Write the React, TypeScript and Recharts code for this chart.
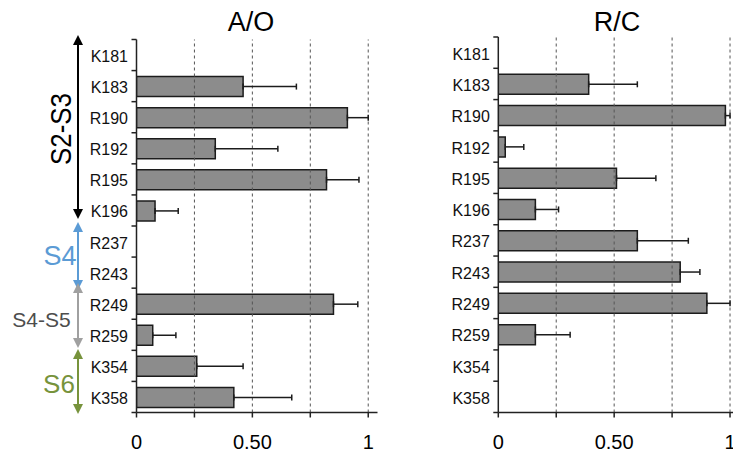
import React from 'react';
import { BarChart, Bar, XAxis, YAxis, ReferenceLine, ErrorBar } from 'recharts';

// residues shown on the y axis, top to bottom
const residues = ['K181', 'K183', 'R190', 'R192', 'R195', 'K196', 'R237', 'R243', 'R249', 'R259', 'K354', 'K358'];

// A/O panel
const aoValues = [0, 0.46, 0.91, 0.34, 0.82, 0.08, 0, 0, 0.85, 0.07, 0.26, 0.42];
const aoErrors = [0, 0.23, 0.09, 0.27, 0.14, 0.1, 0, 0, 0.105, 0.1, 0.2, 0.25];

// R/C panel
const rcValues = [0, 0.39, 0.98, 0.03, 0.51, 0.16, 0.6, 0.785, 0.9, 0.16, 0, 0];
const rcErrors = [0, 0.21, 0.02, 0.08, 0.17, 0.1, 0.22, 0.085, 0.1, 0.15, 0, 0];

const xTicks = [0, 0.25, 0.5, 0.75, 1];
const gridLines = [0.25, 0.5, 0.75, 1];
const xTickLabels: Record<number, string> = { 0: '0', 0.5: '0.50', 1: '1' };

const FONT = '"Liberation Sans", Arial, Helvetica, sans-serif';
const AXIS = '#222';

const buildRows = (values: number[], errors: number[]) =>
  residues.map((residue, i) => ({ residue, value: values[i], err: [0, errors[i]] }));

interface PanelProps {
  rows: any[];
  left: number;
  top: number;
  axisX: number; // y axis position inside the panel
}

const Panel = ({ rows, left, top, axisX }: PanelProps) => {
  const plotBottom = 412.5;
  const band = (plotBottom - top) / residues.length;

  // label at band centre, small tick at the band boundary
  const ResidueTick = (props: any) => {
    const { x, y, payload, index } = props;
    return (
      <g>
        <text x={x - 8.5} y={y} dy={7} textAnchor="end" fontSize={16} fill="#111">
          {payload.value}
        </text>
        <line x1={x - 5} x2={x} y1={y - band / 2} y2={y - band / 2} stroke={AXIS} strokeWidth={1.5} />
        {index === residues.length - 1 && (
          <line x1={x - 5} x2={x} y1={y + band / 2} y2={y + band / 2} stroke={AXIS} strokeWidth={1.5} />
        )}
      </g>
    );
  };

  return (
    <div style={{ position: 'absolute', left, top: 0 }}>
      <BarChart
        width={400}
        height={459}
        data={rows}
        layout="vertical"
        margin={{ top, right: 400 - axisX - 241, left: 0, bottom: 459 - plotBottom - 40 }}
      >
        {gridLines.map((v) => (
          <ReferenceLine key={v} x={v} stroke="#555" strokeDasharray="3 3" />
        ))}
        <XAxis
          type="number"
          domain={[0, 1.04]}
          ticks={xTicks}
          allowDataOverflow
          tickFormatter={(v: number) => xTickLabels[v] ?? ''}
          height={40}
          tickSize={5}
          tickMargin={17}
          axisLine={{ stroke: AXIS, strokeWidth: 1.5 }}
          tickLine={{ stroke: AXIS, strokeWidth: 1.5 }}
          tick={{ fontSize: 20, fill: '#000' }}
        />
        <YAxis
          type="category"
          dataKey="residue"
          width={axisX}
          tickSize={0}
          tickMargin={0}
          tickLine={false}
          axisLine={{ stroke: AXIS, strokeWidth: 1.5 }}
          tick={<ResidueTick />}
          interval={0}
        />
        <Bar dataKey="value" barSize={20} fill="#8c8c8c" stroke="#1c1c1c" strokeWidth={1.5} isAnimationActive={false}>
          <ErrorBar dataKey="err" direction="x" width={3} stroke="#1c1c1c" strokeWidth={1.5} isAnimationActive={false} />
        </Bar>
      </BarChart>
    </div>
  );
};

const Arrow = ({ x, y1, y2, color }: { x: number; y1: number; y2: number; color: string }) => (
  <g>
    <line x1={x} x2={x} y1={y1 + 8} y2={y2 - 8} stroke={color} strokeWidth={2} />
    <polygon points={`${x},${y1} ${x - 5},${y1 + 10} ${x + 5},${y1 + 10}`} fill={color} />
    <polygon points={`${x},${y2} ${x - 5},${y2 - 10} ${x + 5},${y2 - 10}`} fill={color} />
  </g>
);

export default function App() {
  const aoRows = buildRows(aoValues, aoErrors);
  const rcRows = buildRows(rcValues, rcErrors);

  return (
    <div
      style={{
        position: 'absolute',
        left: 0,
        top: 0,
        width: 733,
        height: 459,
        overflow: 'hidden',
        background: '#fff',
        fontFamily: FONT,
      }}
    >
      <Panel rows={aoRows} left={0} top={39.5} axisX={136.5} />
      <Panel rows={rcRows} left={360} top={37} axisX={138.3} />

      {/* titles and segment annotations */}
      <svg width={733} height={459} style={{ position: 'absolute', left: 0, top: 0, pointerEvents: 'none' }}>
        <text x={251} y={31} textAnchor="middle" fontSize={27} fill="#000">A/O</text>
        <text x={617} y={31} textAnchor="middle" fontSize={27} fill="#000">R/C</text>

        <Arrow x={78} y1={35} y2={219} color="#000" />
        <Arrow x={78} y1={222} y2={290} color="#5b9bd5" />
        <Arrow x={78} y1={283} y2={348} color="#a0a0a0" />
        <Arrow x={78} y1={349} y2={414} color="#77933c" />

        <text
          x={0}
          y={0}
          transform="translate(71,129) rotate(-90)"
          textAnchor="middle"
          fontSize={29}
          textLength={72}
          lengthAdjust="spacingAndGlyphs"
          fill="#000"
        >
          S2-S3
        </text>
        <text x={60} y={265} textAnchor="middle" fontSize={27} fill="#5b9bd5">S4</text>
        <text x={41.5} y={327} textAnchor="middle" fontSize={21} fill="#4d4d4d">S4-S5</text>
        <text x={59} y={392.5} textAnchor="middle" fontSize={26} fill="#77933c">S6</text>
      </svg>
    </div>
  );
}
